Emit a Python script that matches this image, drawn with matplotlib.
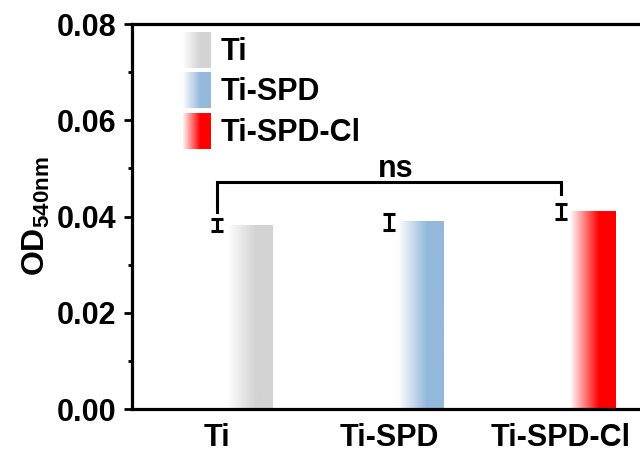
import numpy as np
import matplotlib
matplotlib.use('Agg')
import matplotlib.pyplot as plt
from matplotlib.colors import LinearSegmentedColormap, Normalize
from matplotlib.image import AxesImage, BboxImage
from matplotlib.legend_handler import HandlerBase
from matplotlib.transforms import Bbox, TransformedBbox

plt.rcParams['font.family'] = ['Liberation Sans', 'DejaVu Sans']
plt.rcParams['font.weight'] = 'bold'
plt.rcParams['mathtext.fontset'] = 'custom'
plt.rcParams['mathtext.rm'] = 'Liberation Sans:bold'
plt.rcParams['mathtext.bf'] = 'Liberation Sans:bold'

# data
groups = ['Ti', 'Ti-SPD', 'Ti-SPD-Cl']
od_mean = [0.0382, 0.0389, 0.0410]
od_err = [0.0012, 0.0016, 0.0016]
colors = ['#d3d3d3', '#94b8dc', '#ff0000']
sig_label = 'ns'

# white -> colour ramp used for the bar fill
ramp = np.clip(0.04 + np.linspace(0, 1, 256) / 0.65, 0, 1)


class GradientHandler(HandlerBase):
    def create_artists(self, legend, orig_handle, xdescent, ydescent,
                       width, height, fontsize, trans):
        box = TransformedBbox(Bbox.from_bounds(-xdescent, -ydescent, width, height), trans)
        img = BboxImage(box, cmap=orig_handle.get_cmap(), norm=Normalize(0, 1),
                        interpolation='bilinear')
        img.set_data(ramp[None, :])
        return [img]


fig = plt.figure(figsize=(6.4, 4.54), dpi=100)
ax = fig.add_axes([0.2055, 0.0991, 0.805, 0.848])

x = np.arange(len(groups))
bars = ax.bar(x + 0.06, od_mean, width=0.26, align='edge', color='none', zorder=2)

images = []
for b, c, name in zip(bars, colors, groups):
    cmap = LinearSegmentedColormap.from_list(name, ['white', c])
    im = ax.imshow(ramp[None, :], cmap=cmap, vmin=0, vmax=1, aspect='auto',
                   interpolation='bilinear', zorder=2,
                   extent=[b.get_x(), b.get_x() + b.get_width(), 0, b.get_height()])
    images.append(im)

ax.errorbar(x, od_mean, yerr=od_err, fmt='none', ecolor='black',
            elinewidth=2.2, capsize=4, capthick=2.2, zorder=3)

# significance bracket between Ti and Ti-SPD-Cl
top = 0.0472
ax.plot([0, 0, 2, 2], [0.0410, top, top, 0.0447], color='black', lw=2.2,
        solid_joinstyle='miter', zorder=3)
ax.text(1.04, top + 0.0011, sig_label, ha='center', va='baseline', fontsize=22,
        fontweight='bold')

ax.set_xlim(-0.5, 2.5)
ax.set_ylim(0, 0.08)
ax.set_xticks(x)
ax.set_xticklabels(groups)
ax.set_yticks(np.arange(0, 0.081, 0.02))
ax.set_yticks(np.arange(0.01, 0.08, 0.02), minor=True)
ax.yaxis.set_major_formatter(matplotlib.ticker.FormatStrFormatter('%.2f'))
ax.tick_params(axis='x', length=0, pad=10, labelsize=22)
ax.tick_params(axis='y', which='major', length=6, width=2, pad=5, labelsize=22)
ax.tick_params(axis='y', which='minor', length=3, width=2)
for s in ax.spines.values():
    s.set_linewidth(2.3)

ax.set_ylabel(r'$\mathbf{OD_{540nm}}$', fontsize=23, labelpad=3)

ax.legend(images, groups, handler_map={AxesImage: GradientHandler()},
          loc='upper left', bbox_to_anchor=(0.1006, 0.98), borderaxespad=0,
          borderpad=0, frameon=False, fontsize=22, handlelength=0.915,
          handleheight=1.43, labelspacing=0.15, handletextpad=0.3)

fig.savefig('out.png', dpi=100)
